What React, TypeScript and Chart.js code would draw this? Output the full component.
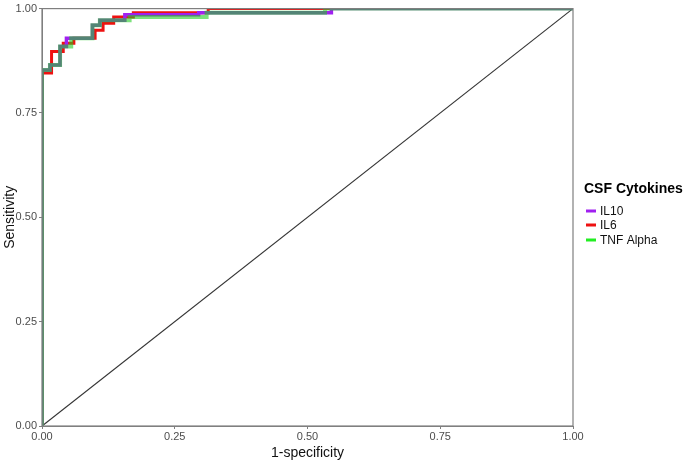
import React, { useEffect, useRef } from "react";
import { Chart, registerables } from "chart.js";

Chart.register(...registerables);

// ROC corner points (1-specificity, sensitivity)
const il10Fpr = [0, 0, 0.015, 0.034, 0.046, 0.095, 0.109, 0.156, 0.295, 0.545, 1];
const il10Tpr = [0, 0.853, 0.865, 0.909, 0.929, 0.96, 0.972, 0.985, 0.99, 1, 1];

const il6Fpr = [0, 0, 0.018, 0.04, 0.06, 0.1, 0.115, 0.135, 0.172, 0.313, 1];
const il6Tpr = [0, 0.846, 0.897, 0.917, 0.929, 0.948, 0.965, 0.98, 0.99, 1, 1];

const tnfFpr = [0, 0, 0.015, 0.034, 0.055, 0.095, 0.109, 0.165, 0.31, 0.533, 1];
const tnfTpr = [0, 0.853, 0.865, 0.909, 0.929, 0.96, 0.972, 0.98, 0.99, 1, 1];

const seriesNames = ["IL10", "IL6", "TNF Alpha"];
const legendTitle = "CSF Cytokines";
const tickValues = [0, 0.25, 0.5, 0.75, 1];

const COLORS = ["#a020f0", "#ee1111", "#22ee22"];

const toPts = (xs: number[], ys: number[]) => xs.map((x, i) => ({ x, y: ys[i] }));

export default function App() {
  const ref = useRef<HTMLCanvasElement>(null);
  useEffect(() => {
    if (!ref.current) return;
    const framePlugin = {
      id: "frame",
      afterDraw(chart: any) {
        const { ctx, chartArea: a } = chart;
        ctx.save();
        ctx.strokeStyle = "#7f7f7f";
        ctx.lineWidth = 1.2;
        ctx.strokeRect(a.left, a.top, a.right - a.left, a.bottom - a.top);
        // legend
        ctx.fillStyle = "#000";
        ctx.textBaseline = "middle";
        ctx.textAlign = "left";
        ctx.font = "bold 14px 'Liberation Sans', Arial, sans-serif";
        ctx.fillText(legendTitle, 584, 189);
        ctx.font = "12px 'Liberation Sans', Arial, sans-serif";
        const ys = [211, 225, 240];
        seriesNames.forEach((n, i) => {
          ctx.strokeStyle = COLORS[i];
          ctx.lineWidth = 3;
          ctx.beginPath();
          ctx.moveTo(586, ys[i]);
          ctx.lineTo(596, ys[i]);
          ctx.stroke();
          ctx.fillStyle = "#111";
          ctx.fillText(n, 600, ys[i] + 1);
        });
        ctx.restore();
      },
    };
    const chart = new Chart(ref.current, {
      type: "line",
      data: {
        datasets: [
          {
            label: "diag",
            data: [{ x: 0, y: 0 }, { x: 1, y: 1 }],
            borderColor: "#333333",
            borderWidth: 1.2,
            pointRadius: 0,
            order: 4,
          },
          {
            label: seriesNames[1],
            data: toPts(il6Fpr, il6Tpr),
            borderColor: COLORS[1],
            borderWidth: 3,
            pointRadius: 0,
            stepped: "before",
            order: 3,
          },
          {
            label: seriesNames[0],
            data: toPts(il10Fpr, il10Tpr),
            borderColor: COLORS[0],
            borderWidth: 3.5,
            pointRadius: 0,
            stepped: "before",
            order: 2,
          },
          {
            label: seriesNames[2],
            data: toPts(tnfFpr, tnfTpr),
            borderColor: "rgba(30,205,30,0.58)",
            borderWidth: 4,
            pointRadius: 0,
            stepped: "before",
            order: 1,
          },
        ] as any,
      },
      plugins: [framePlugin],
      options: {
        animation: false,
        responsive: false,
        maintainAspectRatio: false,
        layout: { padding: { top: 5, right: 112, left: 0, bottom: 0 } },
        plugins: { legend: { display: false }, tooltip: { enabled: false } },
        scales: {
          x: {
            type: "linear",
            min: 0,
            max: 1,
            afterFit: (s: any) => {
              s.height = 39;
            },
            afterBuildTicks: (s: any) => {
              s.ticks = tickValues.map((v) => ({ value: v }));
            },
            ticks: {
              callback: (v: any) => Number(v).toFixed(2),
              color: "#4d4d4d",
              font: { family: "'Liberation Sans', Arial, sans-serif", size: 11 },
              padding: 1,
              maxRotation: 0,
            },
            grid: { drawOnChartArea: false, drawTicks: true, tickLength: 3, color: "#7f7f7f" },
            border: { display: true, color: "#7f7f7f" },
            title: {
              display: true,
              text: "1-specificity",
              color: "#111",
              font: { family: "'Liberation Sans', Arial, sans-serif", size: 14 },
              padding: { top: 0, bottom: 3 },
            },
          },
          y: {
            type: "linear",
            min: 0,
            max: 1,
            afterFit: (s: any) => {
              s.width = 42;
            },
            afterBuildTicks: (s: any) => {
              s.ticks = tickValues.map((v) => ({ value: v }));
            },
            ticks: {
              callback: (v: any) => Number(v).toFixed(2),
              color: "#4d4d4d",
              font: { family: "'Liberation Sans', Arial, sans-serif", size: 11 },
              padding: 2,
            },
            grid: { drawOnChartArea: false, drawTicks: true, tickLength: 3, color: "#7f7f7f" },
            border: { display: true, color: "#7f7f7f" },
            title: {
              display: true,
              text: "Sensitivity",
              color: "#111",
              font: { family: "'Liberation Sans', Arial, sans-serif", size: 14 },
              padding: { top: 2, bottom: 0 },
            },
          },
        },
      } as any,
    });
    return () => chart.destroy();
  }, []);
  return (
    <div style={{ position: "fixed", left: 0, top: 0, width: 685, height: 465, background: "#fff" }}>
      <canvas ref={ref} width={685} height={465} style={{ width: 685, height: 465, display: "block" }} />
    </div>
  );
}
